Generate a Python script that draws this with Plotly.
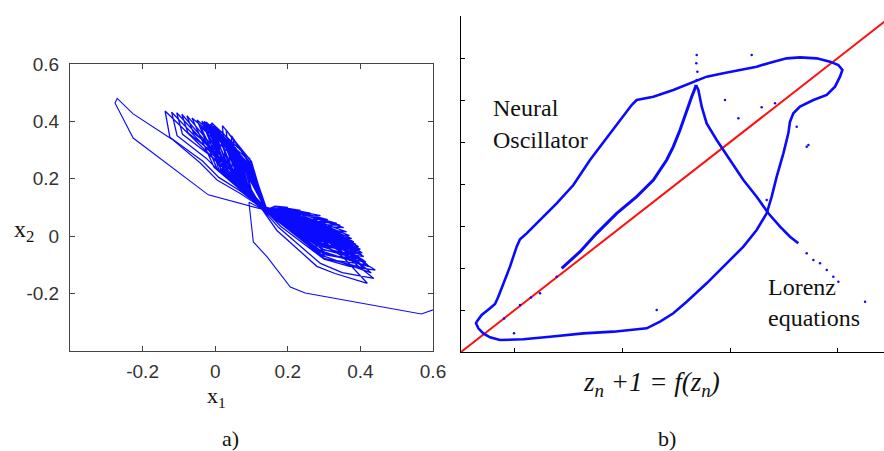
import plotly.graph_objects as go

# ---------------- panel a): phase portrait (x1, x2) ----------------
# initial transient entering from the right edge and looping round the top-left
transient_x1 = [0.61, 0.568, 0.248, 0.207, 0.143, 0.105, 0.093, 0.135, -0.019, -0.226,
                -0.276, -0.27, -0.226, -0.116, -0.041, 0.005, 0.069, 0.124]
transient_x2 = [-0.252, -0.271, -0.198, -0.177, -0.072, -0.02, 0.118, 0.092, 0.144, 0.342,
                0.464, 0.48, 0.426, 0.335, 0.255, 0.196, 0.149, 0.103]

# oscillation cycles; each row: lower fan (out, tip, back) -> centre -> upper fan (in, tip, out) -> centre
bundle_x1 = [
    0.17, 0.28, 0.33, 0.419, 0.35, 0.14, -0.138, -0.125, -0.035, 0.01, 0.072, 0.125,
    0.175, 0.29, 0.35, 0.437, 0.34, 0.138, -0.12, -0.105, -0.025, 0.02, 0.076, 0.127,
    0.18, 0.30, 0.37, 0.441, 0.33, 0.142, -0.106, -0.09, -0.015, 0.08, 0.124,
    0.29, 0.37, 0.43, 0.32, 0.14, -0.092, -0.075, -0.005, 0.085, 0.126,
    0.29, 0.423, 0.31, 0.138, -0.078, -0.06, 0.005, 0.088, 0.123,
    0.301, 0.415, 0.273, 0.14, 0.069, -0.064, -0.003, 0.125,
    0.297, 0.409, 0.27, 0.138, 0.076, -0.05, 0.004, 0.127,
    0.295, 0.405, 0.268, 0.142, 0.078, -0.037, 0.015, 0.124,
    0.292, 0.40, 0.265, 0.139, 0.084, -0.025, 0.021, 0.126,
    0.298, 0.41, 0.27, 0.141, 0.077, -0.03, 0.023, 0.123,
    0.289, 0.395, 0.263, 0.14, 0.085, -0.014, 0.031, 0.125,
    0.289, 0.395, 0.263, 0.138, 0.072, -0.04, 0.018, 0.127,
    0.285, 0.388, 0.259, 0.142, 0.09, -0.005, 0.035, 0.124,
    0.294, 0.404, 0.267, 0.139, 0.078, -0.02, 0.033, 0.126,
    0.281, 0.382, 0.256, 0.141, 0.09, 0.004, 0.045, 0.123,
    0.286, 0.39, 0.26, 0.14, 0.079, -0.018, 0.034, 0.125,
    0.278, 0.376, 0.253, 0.138, 0.093, 0.01, 0.048, 0.127,
    0.291, 0.398, 0.264, 0.142, 0.078, -0.01, 0.042, 0.124,
    0.274, 0.37, 0.25, 0.139, 0.092, 0.018, 0.056, 0.126,
    0.283, 0.385, 0.258, 0.141, 0.081, -0.005, 0.045, 0.123,
    0.269, 0.362, 0.246, 0.14, 0.096, 0.025, 0.06, 0.125,
    0.287, 0.392, 0.261, 0.138, 0.083, 0.0, 0.047, 0.127,
    0.264, 0.354, 0.242, 0.142, 0.099, 0.032, 0.063, 0.124,
    0.277, 0.375, 0.253, 0.139, 0.089, 0.012, 0.053, 0.126,
    0.259, 0.345, 0.238, 0.141, 0.103, 0.04, 0.067, 0.123,
    0.284, 0.386, 0.258, 0.14, 0.083, 0.008, 0.056, 0.125,
    0.253, 0.335, 0.233, 0.138, 0.102, 0.047, 0.075, 0.127,
    0.271, 0.365, 0.248, 0.142, 0.091, 0.025, 0.064, 0.124,
    0.247, 0.325, 0.228, 0.139, 0.106, 0.055, 0.079, 0.126,
    0.28, 0.38, 0.255, 0.141, 0.086, 0.015, 0.059, 0.123,
    0.238, 0.31, 0.22, 0.14, 0.109, 0.06, 0.082, 0.125,
    0.275, 0.372, 0.251, 0.138, 0.09, 0.022, 0.063, 0.127,
    0.226, 0.29, 0.21, 0.142, 0.109, 0.066, 0.087, 0.124,
    0.272, 0.366, 0.248, 0.139, 0.09, 0.028, 0.068, 0.126,
    0.209, 0.262, 0.196, 0.141, 0.112, 0.072, 0.09, 0.123,
    0.268, 0.36, 0.245, 0.14, 0.094, 0.035, 0.072, 0.125,
    0.193, 0.235, 0.183, 0.138, 0.114, 0.08, 0.096, 0.127,
    0.265, 0.355, 0.243, 0.142, 0.092, 0.035, 0.074, 0.124,
    0.263, 0.352, 0.241, 0.139, 0.095, 0.042, 0.077, 0.126,
    0.172, 0.2, 0.165, 0.141, 0.118, 0.088, 0.1, 0.123,
    0.304, 0.42, 0.275, 0.14, 0.095, -0.01, 0.015, 0.125,
    0.292, 0.40, 0.265, 0.138, 0.1, 0.02, 0.03, 0.127,
    0.28, 0.38, 0.255, 0.142, 0.09, -0.03, 0.01, 0.124,
    0.268, 0.36, 0.245, 0.139, 0.105, 0.045, 0.047, 0.126,
    0.298, 0.41, 0.27, 0.141, 0.095, 0.0, 0.029, 0.123,
    0.256, 0.34, 0.235, 0.14, 0.1, 0.03, 0.044, 0.125,
    0.286, 0.39, 0.26, 0.138, 0.079, -0.045, 0.007, 0.127,
    0.244, 0.32, 0.225, 0.142, 0.105, 0.05, 0.059, 0.124,
]
bundle_x2 = [
    0.02, -0.105, -0.13, -0.164, -0.07, 0.093, 0.436, 0.345, 0.262, 0.205, 0.155, 0.102,
    0.03, -0.095, -0.127, -0.147, -0.05, 0.096, 0.432, 0.35, 0.272, 0.215, 0.162, 0.104,
    0.035, -0.08, -0.105, -0.118, -0.03, 0.094, 0.43, 0.355, 0.282, 0.168, 0.1,
    -0.065, -0.1, -0.128, -0.01, 0.09, 0.425, 0.36, 0.29, 0.175, 0.106,
    -0.05, -0.106, 0.0, 0.094, 0.42, 0.36, 0.295, 0.18, 0.103,
    -0.064, -0.09, 0.03, 0.093, 0.272, 0.412, 0.24, 0.102,
    -0.048, -0.071, 0.037, 0.096, 0.269, 0.405, 0.237, 0.104,
    -0.035, -0.058, 0.041, 0.094, 0.265, 0.401, 0.237, 0.1,
    -0.028, -0.046, 0.047, 0.097, 0.263, 0.398, 0.235, 0.106,
    -0.046, -0.085, 0.025, 0.092, 0.257, 0.39, 0.233, 0.103,
    -0.017, -0.036, 0.05, 0.093, 0.257, 0.39, 0.233, 0.102,
    -0.035, -0.075, 0.028, 0.096, 0.252, 0.38, 0.228, 0.104,
    -0.007, -0.028, 0.051, 0.094, 0.255, 0.385, 0.23, 0.1,
    -0.029, -0.065, 0.033, 0.097, 0.253, 0.385, 0.233, 0.106,
    -0.002, -0.02, 0.055, 0.092, 0.246, 0.372, 0.226, 0.103,
    -0.021, -0.06, 0.033, 0.093, 0.245, 0.37, 0.225, 0.102,
    0.01, -0.008, 0.059, 0.096, 0.24, 0.36, 0.22, 0.104,
    -0.016, -0.052, 0.037, 0.094, 0.247, 0.378, 0.231, 0.1,
    0.016, 0.002, 0.064, 0.097, 0.241, 0.366, 0.225, 0.106,
    -0.01, -0.05, 0.035, 0.092, 0.238, 0.36, 0.222, 0.103,
    0.029, 0.015, 0.068, 0.093, 0.23, 0.345, 0.215, 0.102,
    -0.005, -0.042, 0.039, 0.096, 0.245, 0.375, 0.23, 0.104,
    0.038, 0.03, 0.075, 0.094, 0.228, 0.34, 0.212, 0.1,
    -0.004, -0.04, 0.04, 0.097, 0.23, 0.345, 0.215, 0.106,
    0.043, 0.038, 0.079, 0.092, 0.223, 0.33, 0.207, 0.103,
    -0.001, -0.035, 0.043, 0.093, 0.241, 0.37, 0.229, 0.102,
    0.052, 0.045, 0.08, 0.096, 0.217, 0.322, 0.205, 0.104,
    0.01, -0.025, 0.045, 0.094, 0.221, 0.33, 0.209, 0.1,
    0.054, 0.048, 0.082, 0.097, 0.211, 0.31, 0.199, 0.106,
    0.007, -0.03, 0.043, 0.092, 0.234, 0.355, 0.222, 0.103,
    0.06, 0.058, 0.087, 0.093, 0.206, 0.30, 0.194, 0.102,
    0.014, -0.018, 0.049, 0.096, 0.231, 0.35, 0.219, 0.104,
    0.071, 0.072, 0.092, 0.094, 0.198, 0.285, 0.188, 0.1,
    0.022, -0.01, 0.051, 0.097, 0.224, 0.338, 0.214, 0.106,
    0.076, 0.08, 0.096, 0.092, 0.188, 0.265, 0.178, 0.103,
    0.028, 0.0, 0.056, 0.093, 0.221, 0.332, 0.211, 0.102,
    0.084, 0.09, 0.1, 0.096, 0.177, 0.245, 0.169, 0.104,
    0.023, -0.012, 0.049, 0.094, 0.212, 0.315, 0.204, 0.1,
    0.037, 0.012, 0.061, 0.097, 0.213, 0.318, 0.205, 0.106,
    0.09, 0.1, 0.105, 0.092, 0.167, 0.225, 0.159, 0.103,
    -0.08, -0.1, 0.03, 0.093, 0.27, 0.395, 0.228, 0.102,
    -0.063, -0.08, 0.038, 0.096, 0.26, 0.385, 0.223, 0.104,
    -0.046, -0.06, 0.045, 0.094, 0.268, 0.40, 0.232, 0.1,
    -0.034, -0.04, 0.055, 0.097, 0.235, 0.35, 0.207, 0.106,
    -0.076, -0.11, 0.02, 0.092, 0.248, 0.36, 0.214, 0.103,
    0.0, 0.0, 0.07, 0.093, 0.25, 0.37, 0.219, 0.102,
    -0.054, -0.09, 0.025, 0.096, 0.261, 0.39, 0.229, 0.104,
    0.017, 0.02, 0.078, 0.094, 0.23, 0.34, 0.206, 0.1,
]
assert len(bundle_x1) == len(bundle_x2)

tick_vals_a = [-0.2, 0, 0.2, 0.4, 0.6]
tick_text_a = ["-0.2", "0", "0.2", "0.4", "0.6"]

# ---------------- panel b): return maps z(n+1) vs z(n) ----------------
osc_zn = [0.291, 0.384, 0.539, 0.632, 0.693, 0.786, 0.910, 1.034, 1.096, 1.220, 1.467, 1.777,
          2.087, 2.396, 2.582, 2.768, 2.954, 3.170, 3.263, 3.573, 3.944, 4.316, 4.563, 4.873,
          5.183, 5.492, 5.740, 6.050, 6.297, 6.607, 6.854, 7.009, 7.084, 7.040, 6.947, 6.793,
          6.545, 6.297, 6.173, 6.111, 6.080, 5.988, 5.864, 5.771, 5.678, 5.492, 5.245, 4.935,
          4.563, 4.192, 3.944, 3.697, 3.449, 2.830, 2.272, 1.653, 1.158, 0.724, 0.539, 0.415,
          0.322, 0.279, 0.291]
osc_zn1 = [0.722, 0.881, 1.040, 1.143, 1.317, 1.635, 2.032, 2.508, 2.683, 2.825, 3.143, 3.540,
           3.976, 4.571, 4.889, 5.206, 5.524, 5.881, 6.000, 6.079, 6.238, 6.437, 6.556, 6.635,
           6.714, 6.794, 6.889, 6.992, 7.016, 6.992, 6.913, 6.833, 6.714, 6.556, 6.317, 6.119,
           6.000, 5.841, 5.683, 5.484, 5.206, 4.730, 4.175, 3.698, 3.302, 2.905, 2.508, 2.111,
           1.635, 1.198, 0.921, 0.722, 0.563, 0.484, 0.444, 0.365, 0.302, 0.286, 0.349, 0.444,
           0.563, 0.683, 0.722]

lorenz_left_zn = [1.870, 2.211, 2.520, 2.892, 3.263, 3.573, 3.820, 3.944, 4.068, 4.192, 4.285, 4.347, 4.365]
lorenz_left_zn1 = [1.992, 2.389, 2.825, 3.302, 3.698, 4.095, 4.571, 4.889, 5.286, 5.762, 6.079, 6.278, 6.357]
lorenz_right_zn = [4.365, 4.409, 4.471, 4.563, 4.749, 4.997, 5.245, 5.492, 5.709, 5.926, 6.111, 6.266]
lorenz_right_zn1 = [6.357, 6.238, 5.841, 5.444, 5.048, 4.571, 4.095, 3.698, 3.302, 2.984, 2.746, 2.587]

# sparse iterates: tail of the right branch, tip of the cusp, stray points
dots_zn = [6.421, 6.545, 6.669, 6.793, 6.916, 7.009, 4.378, 4.371, 4.390, 4.378,
           5.399, 4.904, 5.152, 5.585, 5.833, 6.235, 6.421, 6.452, 7.505, 3.635,
           0.985, 1.467, 1.096, 1.777, 5.678, 1.300, 0.800]
dots_zn1 = [2.349, 2.190, 2.111, 1.952, 1.794, 1.675, 7.071, 6.873, 6.675, 6.476,
            7.071, 6.000, 5.563, 5.825, 5.921, 5.365, 4.889, 4.929, 1.198, 1.000,
            0.444, 1.397, 1.119, 1.794, 3.619, 1.300, 0.800]

diag_z = [0, 8]
tick_vals_bx = [1, 3, 5, 7]
tick_vals_by = [1, 2, 3, 4, 5, 6, 7]

W, H = 884, 451
BLUE = "#0a0aff"


def px(x):
    return x / W


def py(y):
    return 1 - y / H


fig = go.Figure()

fig.add_trace(go.Scatter(x=transient_x1, y=transient_x2,
                         mode="lines", line=dict(color=BLUE, width=1.1),
                         xaxis="x", yaxis="y", hoverinfo="skip"))
fig.add_trace(go.Scatter(x=transient_x1[-1:] + bundle_x1, y=transient_x2[-1:] + bundle_x2,
                         mode="lines", line=dict(color=BLUE, width=1.3),
                         xaxis="x", yaxis="y", hoverinfo="skip"))

fig.add_trace(go.Scatter(x=diag_z, y=diag_z, mode="lines",
                         line=dict(color="#ff1010", width=2),
                         xaxis="x2", yaxis="y2", hoverinfo="skip"))
fig.add_trace(go.Scatter(x=osc_zn, y=osc_zn1, mode="lines",
                         line=dict(color=BLUE, width=2.6),
                         xaxis="x2", yaxis="y2", hoverinfo="skip"))
fig.add_trace(go.Scatter(x=lorenz_left_zn, y=lorenz_left_zn1, mode="lines",
                         line=dict(color=BLUE, width=3),
                         xaxis="x2", yaxis="y2", hoverinfo="skip"))
fig.add_trace(go.Scatter(x=lorenz_right_zn, y=lorenz_right_zn1, mode="lines",
                         line=dict(color=BLUE, width=2.6),
                         xaxis="x2", yaxis="y2", hoverinfo="skip"))
fig.add_trace(go.Scatter(x=dots_zn, y=dots_zn1, mode="markers",
                         marker=dict(color=BLUE, size=2.5),
                         xaxis="x2", yaxis="y2", hoverinfo="skip"))

tick_font = dict(family="Liberation Sans", size=19, color="#333333")
frame = "#444444"

fig.update_layout(
    width=W, height=H,
    margin=dict(l=0, r=0, t=0, b=0, pad=0, autoexpand=False),
    paper_bgcolor="white", plot_bgcolor="white",
    font=dict(family="Liberation Serif", size=22, color="#111111"),
    showlegend=False,
    xaxis=dict(domain=[px(70), px(433)], range=[-0.4, 0.6], tickvals=tick_vals_a,
               ticktext=tick_text_a, ticks="inside", ticklen=5, tickcolor=frame,
               showline=True, linecolor=frame, linewidth=1, mirror="ticks",
               showgrid=False, zeroline=False, tickfont=tick_font,
               ticklabelstandoff=3, automargin=False, anchor="y"),
    yaxis=dict(domain=[py(351), py(64)], range=[-0.4, 0.6], tickvals=tick_vals_a,
               ticktext=tick_text_a, ticks="inside", ticklen=5, tickcolor=frame,
               showline=True, linecolor=frame, linewidth=1, mirror="ticks",
               showgrid=False, zeroline=False, tickfont=tick_font,
               ticklabelstandoff=6, automargin=False, anchor="x"),
    xaxis2=dict(domain=[px(461), 1.0], range=[0, 7.857], tickvals=tick_vals_bx,
                ticks="inside", ticklen=4, tickcolor="black", showticklabels=False,
                showline=True, linecolor="black", linewidth=1.3,
                showgrid=False, zeroline=False, automargin=False, anchor="y2"),
    yaxis2=dict(domain=[py(352), py(16)], range=[0, 8], tickvals=tick_vals_by,
                ticks="inside", ticklen=4, tickcolor="black", showticklabels=False,
                showline=True, linecolor="black", linewidth=1.3,
                showgrid=False, zeroline=False, automargin=False, anchor="x2"),
)


def label(text, x, y, size, xanchor="center", italic=False):
    fig.add_annotation(text=f"<i>{text}</i>" if italic else text,
                       x=px(x), y=py(y), xref="paper", yref="paper",
                       xanchor=xanchor, yanchor="middle", showarrow=False,
                       font=dict(family="Liberation Serif", size=size, color="#111111"))


label("x<sub>2</sub>", 24, 231, 24)
label("x<sub>1</sub>", 216, 397, 22)
label("a)", 230, 438, 22)
label("b)", 667, 438, 22)
label("Neural", 491, 108, 24, xanchor="left")
label("Oscillator", 491, 140, 24, xanchor="left")
label("Lorenz", 766, 287, 24, xanchor="left")
label("equations", 766, 318, 24, xanchor="left")
label("z<sub>n</sub> +1 = f(z<sub>n</sub>)", 651, 384, 27, italic=True)

fig.write_html("out.html")
